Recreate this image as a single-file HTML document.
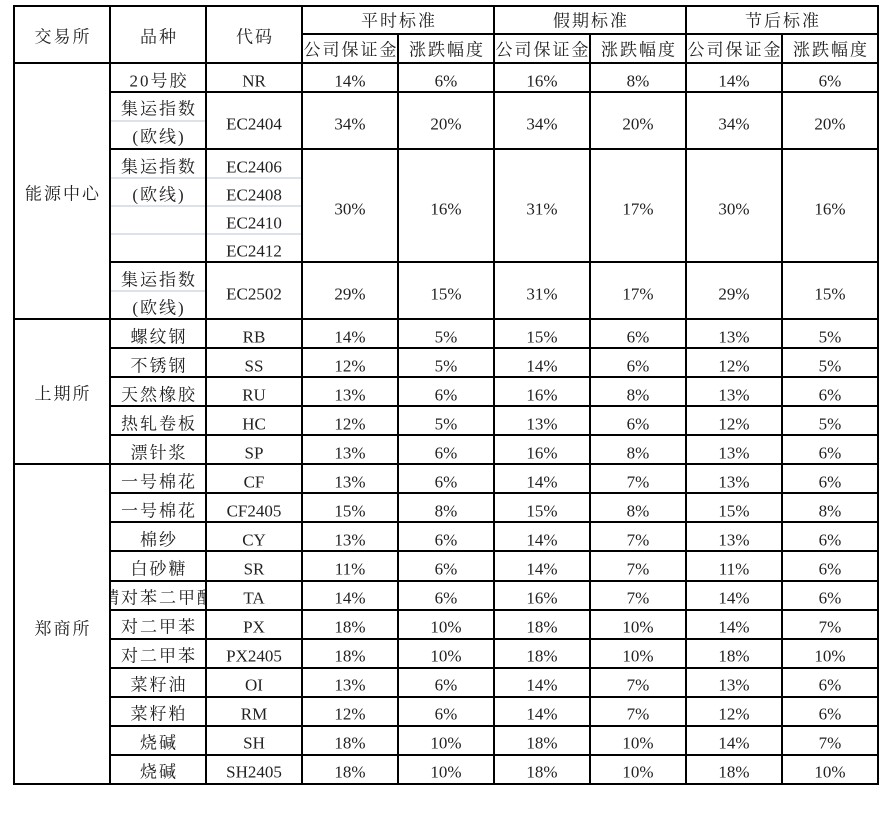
<!DOCTYPE html>
<html><head><meta charset="utf-8"><style>
html,body{margin:0;padding:0;background:#fff;}
svg{display:block;}
text{font-family:"Liberation Serif","Noto Serif CJK SC",serif;font-size:17px;fill:#222;text-anchor:middle;dominant-baseline:central;}
.c{letter-spacing:2px;}
</style></head><body>
<svg width="888" height="813" viewBox="0 0 888 813">
<defs><clipPath id="cp"><rect x="111" y="579" width="94" height="30"/></clipPath></defs>
<g stroke="#b8c4d6" stroke-width="1">
<line x1="111" y1="121" x2="205" y2="121"/>
<line x1="111" y1="178" x2="302" y2="178"/>
<line x1="111" y1="206" x2="302" y2="206"/>
<line x1="111" y1="234" x2="302" y2="234"/>
<line x1="111" y1="291" x2="205" y2="291"/>
</g>
<g stroke="#000" stroke-width="2" fill="none">
<rect x="14" y="6" width="864" height="778"/>
<line x1="110" y1="6" x2="110" y2="784"/>
<line x1="206" y1="6" x2="206" y2="784"/>
<line x1="302" y1="6" x2="302" y2="784"/>
<line x1="398" y1="34" x2="398" y2="784"/>
<line x1="494" y1="6" x2="494" y2="784"/>
<line x1="590" y1="34" x2="590" y2="784"/>
<line x1="686" y1="6" x2="686" y2="784"/>
<line x1="782" y1="34" x2="782" y2="784"/>
<line x1="302" y1="34" x2="878" y2="34"/>
<line x1="14" y1="63" x2="878" y2="63"/>
<line x1="110" y1="92" x2="878" y2="92"/>
<line x1="110" y1="149" x2="878" y2="149"/>
<line x1="110" y1="262" x2="878" y2="262"/>
<line x1="14" y1="319" x2="878" y2="319"/>
<line x1="110" y1="348" x2="878" y2="348"/>
<line x1="110" y1="377" x2="878" y2="377"/>
<line x1="110" y1="406" x2="878" y2="406"/>
<line x1="110" y1="435" x2="878" y2="435"/>
<line x1="14" y1="464" x2="878" y2="464"/>
<line x1="110" y1="493" x2="878" y2="493"/>
<line x1="110" y1="522" x2="878" y2="522"/>
<line x1="110" y1="551" x2="878" y2="551"/>
<line x1="110" y1="581" x2="878" y2="581"/>
<line x1="110" y1="610" x2="878" y2="610"/>
<line x1="110" y1="639" x2="878" y2="639"/>
<line x1="110" y1="668" x2="878" y2="668"/>
<line x1="110" y1="697" x2="878" y2="697"/>
<line x1="110" y1="726" x2="878" y2="726"/>
<line x1="110" y1="755" x2="878" y2="755"/>
</g>
<g transform="translate(0,1)">
<text class="c" x="63" y="36">交易所</text>
<text class="c" x="159" y="36">品种</text>
<text class="c" x="255" y="36">代码</text>
<text class="c" x="399" y="20">平时标准</text>
<text class="c" x="591" y="20">假期标准</text>
<text class="c" x="783" y="20">节后标准</text>
<text class="c" x="351" y="49">公司保证金</text>
<text class="c" x="447" y="49">涨跌幅度</text>
<text class="c" x="543" y="49">公司保证金</text>
<text class="c" x="639" y="49">涨跌幅度</text>
<text class="c" x="735" y="49">公司保证金</text>
<text class="c" x="831" y="49">涨跌幅度</text>

<text class="c" x="63" y="193">能源中心</text>
<text class="c" x="63" y="393">上期所</text>
<text class="c" x="63" y="628">郑商所</text>

<text class="c" x="159" y="80">20号胶</text><text x="254" y="80">NR</text>
<text x="350" y="80">14%</text><text x="446" y="80">6%</text><text x="542" y="80">16%</text><text x="638" y="80">8%</text><text x="734" y="80">14%</text><text x="830" y="80">6%</text>

<text class="c" x="159" y="108">集运指数</text><text class="c" x="159" y="136">(欧线)</text>
<text x="254" y="123">EC2404</text>
<text x="350" y="123">34%</text><text x="446" y="123">20%</text><text x="542" y="123">34%</text><text x="638" y="123">20%</text><text x="734" y="123">34%</text><text x="830" y="123">20%</text>

<text class="c" x="159" y="166">集运指数</text><text class="c" x="159" y="194">(欧线)</text>
<text x="254" y="166">EC2406</text><text x="254" y="194">EC2408</text><text x="254" y="222">EC2410</text><text x="254" y="250">EC2412</text>
<text x="350" y="208">30%</text><text x="446" y="208">16%</text><text x="542" y="208">31%</text><text x="638" y="208">17%</text><text x="734" y="208">30%</text><text x="830" y="208">16%</text>

<text class="c" x="159" y="279">集运指数</text><text class="c" x="159" y="307">(欧线)</text>
<text x="254" y="293">EC2502</text>
<text x="350" y="293">29%</text><text x="446" y="293">15%</text><text x="542" y="293">31%</text><text x="638" y="293">17%</text><text x="734" y="293">29%</text><text x="830" y="293">15%</text>

<text class="c" x="159" y="336">螺纹钢</text><text x="254" y="336">RB</text><text x="350" y="336">14%</text><text x="446" y="336">5%</text><text x="542" y="336">15%</text><text x="638" y="336">6%</text><text x="734" y="336">13%</text><text x="830" y="336">5%</text>
<text class="c" x="159" y="365">不锈钢</text><text x="254" y="365">SS</text><text x="350" y="365">12%</text><text x="446" y="365">5%</text><text x="542" y="365">14%</text><text x="638" y="365">6%</text><text x="734" y="365">12%</text><text x="830" y="365">5%</text>
<text class="c" x="159" y="394">天然橡胶</text><text x="254" y="394">RU</text><text x="350" y="394">13%</text><text x="446" y="394">6%</text><text x="542" y="394">16%</text><text x="638" y="394">8%</text><text x="734" y="394">13%</text><text x="830" y="394">6%</text>
<text class="c" x="159" y="423">热轧卷板</text><text x="254" y="423">HC</text><text x="350" y="423">12%</text><text x="446" y="423">5%</text><text x="542" y="423">13%</text><text x="638" y="423">6%</text><text x="734" y="423">12%</text><text x="830" y="423">5%</text>
<text class="c" x="159" y="452">漂针浆</text><text x="254" y="452">SP</text><text x="350" y="452">13%</text><text x="446" y="452">6%</text><text x="542" y="452">16%</text><text x="638" y="452">8%</text><text x="734" y="452">13%</text><text x="830" y="452">6%</text>

<text class="c" x="159" y="481">一号棉花</text><text x="254" y="481">CF</text><text x="350" y="481">13%</text><text x="446" y="481">6%</text><text x="542" y="481">14%</text><text x="638" y="481">7%</text><text x="734" y="481">13%</text><text x="830" y="481">6%</text>
<text class="c" x="159" y="510">一号棉花</text><text x="254" y="510">CF2405</text><text x="350" y="510">15%</text><text x="446" y="510">8%</text><text x="542" y="510">15%</text><text x="638" y="510">8%</text><text x="734" y="510">15%</text><text x="830" y="510">8%</text>
<text class="c" x="159" y="539">棉纱</text><text x="254" y="539">CY</text><text x="350" y="539">13%</text><text x="446" y="539">6%</text><text x="542" y="539">14%</text><text x="638" y="539">7%</text><text x="734" y="539">13%</text><text x="830" y="539">6%</text>
<text class="c" x="159" y="568">白砂糖</text><text x="254" y="568">SR</text><text x="350" y="568">11%</text><text x="446" y="568">6%</text><text x="542" y="568">14%</text><text x="638" y="568">7%</text><text x="734" y="568">11%</text><text x="830" y="568">6%</text>
<text class="c" x="159" y="597" clip-path="url(#cp)">精对苯二甲酸</text><text x="254" y="597">TA</text><text x="350" y="597">14%</text><text x="446" y="597">6%</text><text x="542" y="597">16%</text><text x="638" y="597">7%</text><text x="734" y="597">14%</text><text x="830" y="597">6%</text>
<text class="c" x="159" y="626">对二甲苯</text><text x="254" y="626">PX</text><text x="350" y="626">18%</text><text x="446" y="626">10%</text><text x="542" y="626">18%</text><text x="638" y="626">10%</text><text x="734" y="626">14%</text><text x="830" y="626">7%</text>
<text class="c" x="159" y="655">对二甲苯</text><text x="254" y="655">PX2405</text><text x="350" y="655">18%</text><text x="446" y="655">10%</text><text x="542" y="655">18%</text><text x="638" y="655">10%</text><text x="734" y="655">18%</text><text x="830" y="655">10%</text>
<text class="c" x="159" y="684">菜籽油</text><text x="254" y="684">OI</text><text x="350" y="684">13%</text><text x="446" y="684">6%</text><text x="542" y="684">14%</text><text x="638" y="684">7%</text><text x="734" y="684">13%</text><text x="830" y="684">6%</text>
<text class="c" x="159" y="713">菜籽粕</text><text x="254" y="713">RM</text><text x="350" y="713">12%</text><text x="446" y="713">6%</text><text x="542" y="713">14%</text><text x="638" y="713">7%</text><text x="734" y="713">12%</text><text x="830" y="713">6%</text>
<text class="c" x="159" y="742">烧碱</text><text x="254" y="742">SH</text><text x="350" y="742">18%</text><text x="446" y="742">10%</text><text x="542" y="742">18%</text><text x="638" y="742">10%</text><text x="734" y="742">14%</text><text x="830" y="742">7%</text>
<text class="c" x="159" y="771">烧碱</text><text x="254" y="771">SH2405</text><text x="350" y="771">18%</text><text x="446" y="771">10%</text><text x="542" y="771">18%</text><text x="638" y="771">10%</text><text x="734" y="771">18%</text><text x="830" y="771">10%</text>
</g>
</svg>
</body></html>
